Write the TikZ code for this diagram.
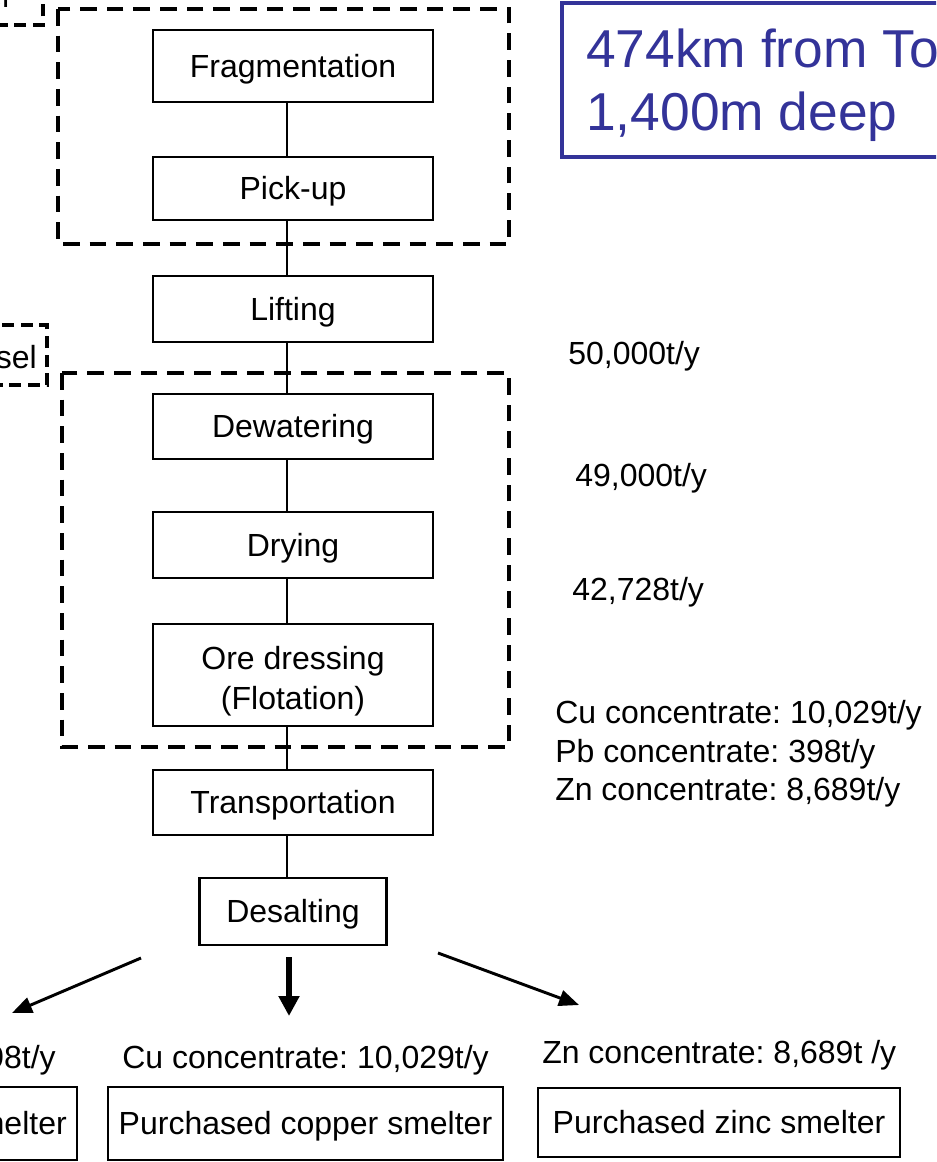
\documentclass[tikz,border=0pt]{standalone}
\usepackage{fontspec}
\setmainfont{Liberation Sans}
\usepackage{xcolor}
\usepackage{tikz}
\usetikzlibrary{arrows.meta,positioning}
\definecolor{navy}{HTML}{333399}
\frenchspacing

\begin{document}
\begin{tikzpicture}[x=0.75pt,y=-0.75pt,
    stage/.style={draw,line width=1.8pt,minimum width=210pt,inner sep=0pt,
      text height=17.2pt,text depth=0pt,font=\fontsize{24}{30}\selectfont},
    note/.style={inner sep=0pt,font=\fontsize{24}{30}\selectfont},
    link/.style={line width=1.5pt},
    zone/.style={line width=3.2pt,dash pattern=on 12.5pt off 7.5pt},
    side/.style={line width=2.4pt,dash pattern=on 9pt off 5pt},
    flow/.style={line width=2.2pt,-{Triangle[length=15pt,width=12pt]}},
    bigflow/.style={line width=4.5pt,-{Triangle[length=15pt,width=15pt]}}]
  \useasboundingbox (0,0) rectangle (936,1162);
  \clip (0,0) rectangle (936,1162);

  % dashed groups
  \draw[zone] (58,9) rectangle (509,244);
  \draw[zone] (62,373) rectangle (509,747);
  \draw[side] (-80,-30) rectangle (43,25);
  \node[note,anchor=base east] (shipnote) at (13,8) {er};
  \draw[side] (-80,325) rectangle (47,385);
  \node[note,anchor=base east] (vesselnote) at (37,368) {sel};

  % process chain
  \node[stage,minimum height=54pt] (frag) at (293,66) {Fragmentation};
  \node[stage,minimum height=47.25pt] (pick) at (293,188.5) {Pick-up};
  \node[stage,minimum height=49.5pt] (lift) at (293,309) {Lifting};
  \node[stage,minimum height=48.75pt] (dewat) at (293,426.5) {Dewatering};
  \node[stage,minimum height=49.5pt] (dry) at (293,545) {Drying};
  \node[stage,minimum height=76.5pt,text height=,text depth=] (ore) at (293,675)
    {\raisebox{-5pt}[\height][\depth]{\begin{tabular}{@{}c@{}}Ore dressing\\(Flotation)\end{tabular}}};
  \node[stage,minimum height=48.75pt] (trans) at (293,802.5) {Transportation};
  \node[stage,minimum width=140.25pt,minimum height=50.25pt] (desalt) at (293,911.5) {Desalting};
  \foreach \a/\b in {frag/pick,pick/lift,lift/dewat,dewat/dry,dry/ore,ore/trans,trans/desalt}
    \draw[link] ([xshift=-4.5pt]\a.south) -- ([xshift=-4.5pt]\b.north);

  % site box
  \draw[navy,line width=3pt] (562,3) rectangle (1000,157);
  \node[note,anchor=base west,text=navy,font=\fontsize{40}{48}\selectfont] (site) at (586,68) {474km from To};
  \node[note,anchor=base west,text=navy,font=\fontsize{40}{48}\selectfont] (depth) at (586,131) {1,400m deep};

  % amounts
  \node[note,anchor=base west] (q1) at (568,364) {50,000t/y};
  \node[note,anchor=base west] (q2) at (575,486) {49,000t/y};
  \node[note,anchor=base west] (q3) at (572,600) {42,728t/y};
  \node[note,anchor=base west] (cu) at (555,723) {Cu concentrate: 10,029t/y};
  \node[note,anchor=base west] (pb) at (555,762) {Pb concentrate: 398t/y};
  \node[note,anchor=base west] (zn) at (555,800) {Zn concentrate: 8,689t/y};

  % smelters
  \node[note,anchor=base east] (pbout) at (56,1068) {98t/y};
  \node[note,anchor=base west] (cuout) at (122,1068) {Cu concentrate: 10,029t/y};
  \node[note,anchor=base west] (znout) at (542,1063) {Zn concentrate: 8,689t /y};
  \draw[line width=1.8pt] (-120,1087) rectangle (77,1160);
  \node[note,anchor=base east] (pbsmelt) at (67,1134) {melter};
  \node[stage,minimum width=296.25pt,minimum height=54.75pt] (cusmelt) at (305.5,1123.5) {Purchased copper smelter};
  \node[stage,minimum width=271.5pt,minimum height=51.75pt] (znsmelt) at (719,1122.5) {Purchased zinc smelter};

  \coordinate (outL) at (141,958);
  \coordinate (outC) at (289,957);
  \coordinate (outR) at (438,953);
  \coordinate (tipL) at (12,1013);
  \coordinate (tipC) at (289,1016);
  \coordinate (tipR) at (579,1005);
  \draw[flow] (outL) -- (tipL);
  \draw[bigflow] (outC) -- (tipC);
  \draw[flow] (outR) -- (tipR);
\end{tikzpicture}
\end{document}
